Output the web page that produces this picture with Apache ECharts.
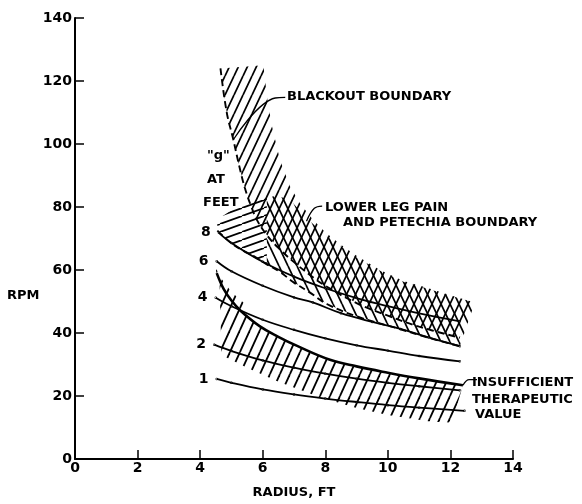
<!DOCTYPE html>
<html><head><meta charset="utf-8">
<script src="https://cdn.jsdelivr.net/npm/echarts@6/dist/echarts.min.js"></script>
<style>html,body{margin:0;padding:0;background:#fff}#c{width:582px;height:504px}</style>
</head><body><div id="c"></div>
<script>
// ---- data ----
const g1 = [[4.53,25.4],[5,24.2],[6,22.1],[7,20.5],[8,19.2],[9,18.1],[10,17.1],[11,16.3],[12.45,15.3]];
const g2 = [[4.45,36.3],[5,34.3],[6,31.3],[7,29.0],[8,27.1],[9,25.5],[10,24.2],[11,23.1],[12.3,21.8]];
const g4 = [[4.5,51.2],[5,48.5],[6,44.2],[7,41.0],[8,38.3],[9,36.1],[10,34.4],[11,32.7],[12.3,31.0]];
const g6 = [[4.53,62.8],[5,59.6],[6,55.0],[7,51.3],[7.6,49.7],[8.5,46.3],[9.5,43.5],[10.4,41.3],[11.3,38.6],[12.3,35.8]];
const g8 = [[4.6,71.8],[5,68.6],[6,62.6],[7,57.9],[8,54.2],[9,51.1],[10,48.5],[11,46.2],[12.3,43.7]];
const gLabels = ['1','2','4','6','8'];

// blackout boundary (dashed) and right edge of its hatched band
const blackout = [[4.65,124],[4.85,110],[5.06,101.4],[5.25,93],[5.43,86],[5.62,80.5],[5.81,76],[6.1,71.5],[6.5,67],[7,62.5],[7.5,58.5],[8,55],[9,49.5],[10,45.5],[11,42],[12.3,38.5]];
const blackoutEdge = [[6.02,125],[6.15,114],[6.3,105.5],[6.55,95],[6.87,86.6],[7.2,81],[7.6,76],[8,72],[8.5,68],[9,64.5],[9.75,60],[10.5,56.5],[11.2,54.5],[12,52],[12.78,49.7]];
// lower leg pain and petechia boundary (dashed) and upper edge of its band
const legPain = [[4.55,72.5],[5,68.5],[5.4,66],[5.7,64.5],[6.13,61.8],[6.55,59.4],[7,56],[7.5,52.9],[8.05,49.2],[9,45.3],[10.4,41.2],[11.3,38.5],[12.3,35.8]];
const legPainEdge = [[4.55,76],[5,79],[5.5,81.5],[6,83],[6.5,83.5],[6.9,82],[7.35,77],[8,71],[9,64],[9.75,59.8],[10.5,56.3],[11.2,54.3],[12,51.8],[12.78,49.7]];
// insufficient therapeutic value boundary and lower extent of hatching
const insuff = [[4.53,59],[4.75,54],[5,50.3],[5.3,47],[5.9,42.2],[6.5,38.8],[7.1,35.9],[8.15,31.5],[9,29.4],[10,27.4],[11,25.6],[12.4,23.4]];
const insuffLow = [[4.62,56],[4.68,33],[5.5,29],[6.5,24.5],[7.83,19.6],[9,16.2],[10,14],[11.4,11.8],[12.05,11.6]];
const insuffTicks = [[4.45,61.5],[4.7,57],[5,53],[5.4,49.5]];

// leader lines for annotations
const leaderBlackout = [[6.72,114.8],[6.4,114.6],[5.07,101.5]];
const leaderLeg = [[7.9,80.3],[7.65,79.6],[7.4,75.5]];
const leaderInsuff = [[12.4,23.4],[12.6,25.2],[12.85,25.2]];

// ---- helpers ----
function hatch(w, h, dir, lw){
  const c = document.createElement('canvas'); c.width = w; c.height = h;
  const ctx = c.getContext('2d'); ctx.strokeStyle = '#000'; ctx.lineWidth = lw;
  for (const ox of [-w, 0, w]) {
    ctx.beginPath();
    if (dir > 0) { ctx.moveTo(ox, h); ctx.lineTo(ox + w, 0); }
    else { ctx.moveTo(ox, 0); ctx.lineTo(ox + w, h); }
    ctx.stroke();
  }
  return {image: c, repeat: 'repeat'};
}
const patSlash = hatch(9, 19, 1, 1.7);
const patBack = hatch(9, 19, -1, 1.7);
const patShallow = hatch(22, 8, 1, 1.7);
const patInsuff = hatch(10, 22, 1, 1.8);

function band(a, b, pat){
  return {
    type: 'custom', coordinateSystem: 'cartesian2d', silent: true, z: 1, clip: true,
    data: [a[0]],
    renderItem: function(p, api){
      const pts = a.map(d => api.coord(d)).concat(b.slice().reverse().map(d => api.coord(d)));
      return {type: 'polygon', shape: {points: pts}, style: {fill: pat, stroke: null}};
    }
  };
}
const FONT = 'DejaVu Sans';
function curve(d, label, opts){
  opts = opts || {};
  return {
    type: 'line', smooth: 0.4, z: 3, silent: true,
    showSymbol: !!label, symbolSize: 0.5, itemStyle: {color: '#000'},
    lineStyle: {color: '#000', width: opts.width || 1.8, type: opts.type || 'solid'},
    data: d.map((p, i) => (i === 0 && label) ? {value: p, label: {show: true, position: 'left', distance: 7, formatter: label, fontSize: 14, fontWeight: 'bold', color: '#000', fontFamily: FONT}} : {value: p, label: {show: false}})
  };
}
function clip(d, x0, x1){ return d.filter(p => p[0] >= x0 && p[0] <= x1); }

const legLeftLow = clip(legPain, 0, 6.13), legLeftUp = clip(legPainEdge, 0, 6.0);
legLeftUp.push([6.13, 83.2]);
const legRightLow = clip(legPain, 6.0, 20), legRightUp = [[6.13,83.2]].concat(clip(legPainEdge, 6.2, 20));

const chart = echarts.init(document.getElementById('c'), null, {renderer: 'canvas'});
const txt = (t, x, y, align) => ({type: 'text', left: x, top: y, style: {text: t, font: 'bold 13px "DejaVu Sans"', fill: '#000', textAlign: align || 'left'}});
chart.setOption({
  animation: false,
  textStyle: {fontFamily: FONT},
  grid: {left: 75, right: 69, top: 18, bottom: 44},
  xAxis: {
    type: 'value', min: 0, max: 14, interval: 2,
    name: 'RADIUS, FT', nameLocation: 'middle', nameGap: 27,
    nameTextStyle: {fontSize: 13, fontWeight: 'bold', color: '#000', fontFamily: FONT},
    axisLine: {lineStyle: {color: '#000', width: 2}},
    axisTick: {inside: true, length: 9, lineStyle: {color: '#000', width: 1.5}},
    axisLabel: {fontSize: 14, fontWeight: 'bold', color: '#000', margin: 2},
    splitLine: {show: false}
  },
  yAxis: {
    type: 'value', min: 0, max: 140, interval: 20,
    axisLine: {show: true, lineStyle: {color: '#000', width: 2}},
    axisTick: {show: true, inside: true, length: 9, lineStyle: {color: '#000', width: 1.5}},
    axisLabel: {fontSize: 14, fontWeight: 'bold', color: '#000', margin: 3},
    splitLine: {show: false}
  },
  graphic: [
    txt('RPM', 7, 289),
    txt('"g"', 207, 149, 'center'),
    txt('AT', 207, 173, 'center'),
    txt('FEET', 203, 196, 'center'),
    txt('BLACKOUT BOUNDARY', 287, 90),
    txt('LOWER LEG PAIN', 325, 201),
    txt('AND PETECHIA BOUNDARY', 343, 216),
    txt('INSUFFICIENT', 472, 376),
    txt('THERAPEUTIC', 472, 393),
    txt('VALUE', 475, 408)
  ],
  series: [
    band(blackout, blackoutEdge, patSlash),
    band(legLeftLow, legLeftUp, patShallow),
    band(legRightLow, legRightUp, patBack),
    band(insuff, insuffLow, patInsuff),
    band(insuffTicks, clip(insuff, 0, 5.4), patInsuff),
    curve(g1, '1'), curve(g2, '2'), curve(g4, '4'), curve(g6, '6'), curve(g8, '8'),
    curve(insuff, null, {width: 2.6}),
    curve(blackout, null, {width: 1.9, type: [7, 4]}),
    curve(legPain, null, {width: 1.9, type: [7, 4]}),
    curve(leaderBlackout, null, {width: 1.3}),
    curve(leaderLeg, null, {width: 1.3}),
    curve(leaderInsuff, null, {width: 1.3})
  ]
});
</script></body></html>
